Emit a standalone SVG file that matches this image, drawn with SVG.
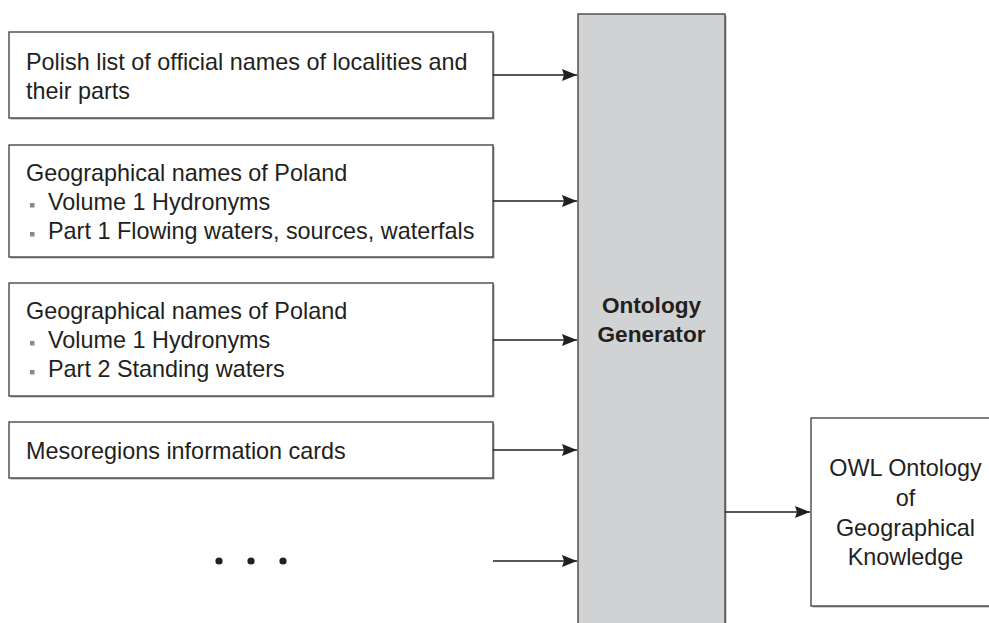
<svg xmlns="http://www.w3.org/2000/svg" width="989" height="623" viewBox="0 0 989 623">
<style>
.box{fill:#ffffff;stroke:#3a3a3a;stroke-width:1.3}
.gen{fill:#d1d2d4;stroke:#3a3a3a;stroke-width:1.3}
.shadow{fill:#a8a8a8;stroke:none}
.t{font-family:"Liberation Sans",Arial,sans-serif;font-size:23.4px;fill:#231f20}
.tb{font-family:"Liberation Sans",Arial,sans-serif;font-size:22.6px;font-weight:bold;fill:#231f20}
.bul{fill:#8a8a8a}
.conn{stroke:#231f20;stroke-width:1.3;fill:none}
</style>
<defs>
<marker id="ah" markerUnits="userSpaceOnUse" markerWidth="16" markerHeight="12" refX="15" refY="6" orient="auto">
<path d="M0,0 L15,6 L0,12 L2,6 Z" fill="#231f20"/>
</marker>
</defs>
<rect width="989" height="623" fill="#ffffff"/>

<g id="generator">
<rect class="shadow" x="579.5" y="15.5" width="147" height="620"/>
<rect class="gen" x="578" y="14" width="147" height="620"/>
<text class="tb" x="651.5" y="313" text-anchor="middle">Ontology</text>
<text class="tb" x="651.5" y="342" text-anchor="middle">Generator</text>
</g>

<g id="src1">
<rect class="shadow" x="10.5" y="33.5" width="484" height="86"/>
<rect class="box" x="9" y="32" width="484" height="86"/>
<text class="t" x="26" y="70">Polish list of official names of localities and</text>
<text class="t" x="26" y="99">their parts</text>
</g>

<g id="src2">
<rect class="shadow" x="10.5" y="146.5" width="484" height="112"/>
<rect class="box" x="9" y="145" width="484" height="112"/>
<text class="t" x="26" y="181">Geographical names of Poland</text>
<rect class="bul" x="30" y="203" width="4.5" height="4.5"/>
<text class="t" x="48" y="210">Volume 1 Hydronyms</text>
<rect class="bul" x="30" y="232" width="4.5" height="4.5"/>
<text class="t" x="48" y="239">Part 1 Flowing waters, sources, waterfals</text>
</g>

<g id="src3">
<rect class="shadow" x="10.5" y="284.5" width="484" height="113"/>
<rect class="box" x="9" y="283" width="484" height="113"/>
<text class="t" x="26" y="319">Geographical names of Poland</text>
<rect class="bul" x="30" y="341" width="4.5" height="4.5"/>
<text class="t" x="48" y="348">Volume 1 Hydronyms</text>
<rect class="bul" x="30" y="370" width="4.5" height="4.5"/>
<text class="t" x="48" y="377">Part 2 Standing waters</text>
</g>

<g id="src4">
<rect class="shadow" x="10.5" y="423.5" width="484" height="56"/>
<rect class="box" x="9" y="422" width="484" height="56"/>
<text class="t" x="26" y="459">Mesoregions information cards</text>
</g>

<g id="more">
<circle cx="219" cy="561" r="3.6" fill="#231f20"/>
<circle cx="251" cy="561" r="3.6" fill="#231f20"/>
<circle cx="283" cy="561" r="3.6" fill="#231f20"/>
</g>

<g id="output">
<rect class="shadow" x="812.5" y="419.5" width="190" height="188"/>
<rect class="box" x="811" y="418" width="190" height="188"/>
<text class="t" x="905.5" y="476" text-anchor="middle">OWL Ontology</text>
<text class="t" x="905.5" y="506" text-anchor="middle">of</text>
<text class="t" x="905.5" y="536" text-anchor="middle">Geographical</text>
<text class="t" x="905.5" y="565" text-anchor="middle">Knowledge</text>
</g>

<g id="connectors">
<line class="conn" x1="493" y1="75" x2="577" y2="75" marker-end="url(#ah)"/>
<line class="conn" x1="493" y1="201" x2="577" y2="201" marker-end="url(#ah)"/>
<line class="conn" x1="493" y1="340" x2="577" y2="340" marker-end="url(#ah)"/>
<line class="conn" x1="493" y1="450" x2="577" y2="450" marker-end="url(#ah)"/>
<line class="conn" x1="493" y1="561" x2="577" y2="561" marker-end="url(#ah)"/>
<line class="conn" x1="725" y1="512" x2="810" y2="512" marker-end="url(#ah)"/>
</g>
</svg>
